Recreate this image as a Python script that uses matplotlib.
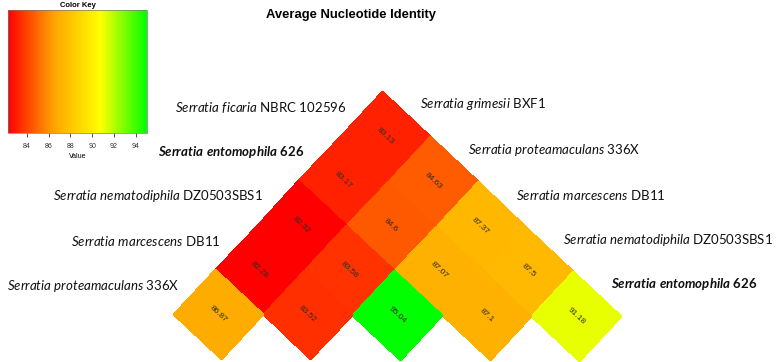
import numpy as np
import matplotlib
matplotlib.use('Agg')
import matplotlib.pyplot as plt
from matplotlib.colors import LinearSegmentedColormap
from matplotlib.transforms import Affine2D

# Dados: ANI entre as espécies (linha = rótulo à esquerda, coluna = rótulo à direita)
linhas = [('Serratia ficaria', 'NBRC 102596', False),
          ('Serratia entomophila', '626', True),
          ('Serratia nematodiphila', 'DZ0503SBS1', False),
          ('Serratia marcescens', 'DB11', False),
          ('Serratia proteamaculans', '336X', False)]
colunas = [('Serratia grimesii', 'BXF1', False),
           ('Serratia proteamaculans', '336X', False),
           ('Serratia marcescens', 'DB11', False),
           ('Serratia nematodiphila', 'DZ0503SBS1', False),
           ('Serratia entomophila', '626', True)]
ani = [[83.13, 84.63, 87.37, 87.50, 91.18],
       [83.17, 84.60, 87.07, 87.10, None],
       [82.32, 83.58, 95.04, None, None],
       [82.28, 83.52, None, None, None],
       [86.87, None, None, None, None]]
ticks_chave = [84, 86, 88, 90, 92, 94]

plt.rcParams['mathtext.fontset'] = 'custom'
plt.rcParams['mathtext.it'] = 'Lato:italic'
plt.rcParams['mathtext.rm'] = 'Lato'
plt.rcParams['mathtext.bfit'] = 'Lato:bold:italic'
plt.rcParams['mathtext.bf'] = 'Lato:bold'

C = np.ma.masked_invalid(np.array(ani, dtype=float))
vmin, vmax = C.min(), C.max()
cmap = LinearSegmentedColormap.from_list('ryg', ['red', 'orange', 'yellow', 'lime'])

fig = plt.figure(figsize=(7.77, 3.62), dpi=100)
ax = fig.add_axes([0, 0, 1, 1])
ax.set_xlim(0, 777)
ax.set_ylim(362, 0)
ax.axis('off')

# grade girada (~45 graus): vértice do topo e vetores das células, em pixels
topo = (382, 91)
vet_col = (47.8, 45.0)   # um passo na coluna (desce p/ direita)
vet_lin = (-41.8, 44.6)  # um passo na linha (desce p/ esquerda)
grade = Affine2D().from_values(vet_col[0], vet_col[1], vet_lin[0], vet_lin[1], topo[0], topo[1])
T = grade + ax.transData

n = len(linhas)
mesh = ax.pcolormesh(np.arange(n + 1), np.arange(n + 1), C, cmap=cmap, vmin=vmin, vmax=vmax,
                     transform=T, edgecolors='face', linewidth=0.4)

angulo = -np.degrees(np.arctan2(vet_col[1], vet_col[0]))
for i in range(n):
    for j in range(n):
        if C.mask[i, j]:
            continue
        ax.text(j + 0.5, i + 0.5, f'{C[i, j]:g}', transform=T, rotation=angulo,
                rotation_mode='anchor', ha='center', va='center', fontsize=6,
                color='#2a2a2a', family='Liberation Sans')


def rotulo(genero, cepa, negrito):
    if negrito:
        return r'$\mathbfit{' + genero.replace(' ', r'\ ') + '}$ ' + cepa
    return r'$\mathit{' + genero.replace(' ', r'\ ') + '}$ ' + cepa


for i, (g, c, b) in enumerate(linhas):
    x, y = grade.transform((0, i + 0.5))
    ax.text(x - 15, y - 6, rotulo(g, c, b), ha='right', va='center', fontsize=9.5,
            family='Lato', fontweight='bold' if b else 'normal', color='#111111')

for j, (g, c, b) in enumerate(colunas):
    x, y = grade.transform((j + 0.5, 0))
    ax.text(x + 14, y - 9, rotulo(g, c, b), ha='left', va='center', fontsize=9.5,
            family='Lato', fontweight='bold' if b else 'normal', color='#111111')

ax.text(351, 15, 'Average Nucleotide Identity', ha='center', va='center', fontsize=9.4,
        fontweight='bold', family='Liberation Sans')

# chave de cores
cax = fig.add_axes([8 / 777, 1 - 133 / 362, 139 / 777, 123 / 362])
cb = fig.colorbar(mesh, cax=cax, orientation='horizontal')
cb.set_ticks(ticks_chave)
cb.outline.set_linewidth(0.5)
cb.outline.set_edgecolor('#777777')
cax.tick_params(labelsize=5, length=3, width=0.6, pad=4, colors='#333333')
cax.set_xlabel('Value', fontsize=5, labelpad=2, family='Liberation Sans')
cax.set_title('Color Key', fontsize=5.5, fontweight='bold', pad=2, family='Liberation Sans')
for t in cax.get_xticklabels():
    t.set_family('Liberation Sans')

fig.savefig('out.png', dpi=100)
